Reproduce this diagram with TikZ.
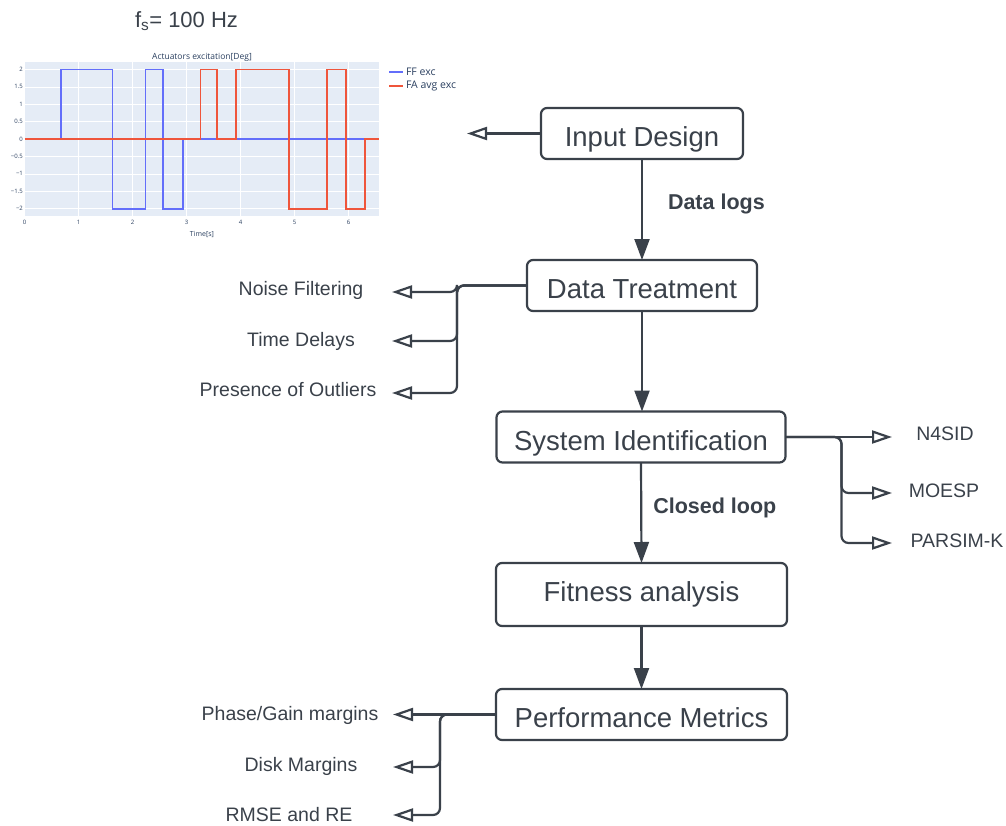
\documentclass[tikz,border=0pt]{standalone}
\usepackage{fontspec}
\setmainfont{Liberation Sans}
\newfontfamily\plotfont{Open Sans}
\usetikzlibrary{arrows.meta}
\definecolor{ink}{HTML}{3A414A}
\definecolor{plotbg}{HTML}{E5ECF6}
\definecolor{plottxt}{HTML}{2A3F5F}
\definecolor{ffblue}{HTML}{636EFA}
\definecolor{fared}{HTML}{EF553B}
\begin{document}
\begin{tikzpicture}[x=1pt,y=-1pt,inner sep=0pt,outer sep=0pt,line width=2.2pt,color=ink,
sysblock/.style={draw,rectangle,rounded corners=6pt,minimum height=51pt,text height=26.7pt,text depth=0pt,
  font=\fontsize{27.5}{33}\selectfont},
lbl/.style={font=\fontsize{19.5}{23}\selectfont,anchor=base},
edgelbl/.style={font=\bfseries\fontsize{21.5}{26}\selectfont,anchor=base west},
flow/.style={-{Triangle[length=21pt,width=15pt]}},
branch/.style={-{Triangle[open,length=20pt,width=13pt,fill=white]},rounded corners=7pt},
ticklbl/.style={font=\plotfont\fontsize{6}{7}\selectfont,text=plottxt},
sig/.style={line width=1.8pt,line join=miter}]
\useasboundingbox (0,0) rectangle (1006,825);

\node[anchor=base west,font=\fontsize{22}{26}\selectfont] (fs) at (135,27) {f\textsubscript{s}= 100 Hz};

\begin{scope}[shift={(24.5,139)},x=54pt,y=34.8pt,line width=0.6pt]
\fill[plotbg] (0.01,-2.22) rectangle (6.57,2.22);
\foreach \v in {-2,-1.5,...,2.1} \draw[white] (0.01,\v) -- (6.57,\v);
\foreach \t in {1,...,6} \draw[white] (\t,-2.22) -- (\t,2.22);
\foreach \v/\s [count=\k] in {2/2,1.5/1.5,1/1,0.5/0.5,0/0,-0.5/−0.5,-1/−1,-1.5/−1.5,-2/−2}
  \node[ticklbl,anchor=east] (ytick\k) at (-0.03,\v) {\s};
\foreach \t in {0,...,6}
  \node[ticklbl,anchor=north] (xtick\t) at (\t,-2.34) {\t};
\draw[ffblue,sig] (0.67,0) -- (0.67,2) -- (1.63,2) -- (1.63,-2) -- (2.24,-2) -- (2.24,2) -- (2.57,2)
  -- (2.57,-2) -- (2.93,-2) -- (2.93,0) -- (6.57,0);
\draw[fared,sig] (0,0) -- (3.26,0) -- (3.26,2) -- (3.57,2) -- (3.57,0) -- (3.92,0) -- (3.92,2) -- (4.9,2)
  -- (4.9,-2) -- (5.6,-2) -- (5.6,2) -- (5.96,2) -- (5.96,-2) -- (6.31,-2) -- (6.31,0) -- (6.57,0);
\end{scope}
\node[font=\plotfont\fontsize{8.5}{10}\selectfont,text=plottxt] (ptitle) at (202,57) {Actuators excitation[Deg]};
\node[ticklbl,font=\plotfont\fontsize{7}{8}\selectfont] (ptime) at (202,234) {Time[s]};
\draw[ffblue,sig] (389,72) -- (403,72) node[right=3pt,font=\plotfont\fontsize{10.5}{12}\selectfont,text=plottxt] (legff) {FF exc};
\draw[fared,sig] (389,86) -- (403,86) node[right=3pt,font=\plotfont\fontsize{10.5}{12}\selectfont,text=plottxt] (legfa) {FA avg exc};

\draw (642,133.5) node[sysblock,minimum width=202pt] (indes) {Input Design};
\draw (642,285.5) node[sysblock,minimum width=230pt] (dtreat) {Data Treatment};
\draw (641,437) node[sysblock,minimum width=289pt] (sysid) {System Identification};
\draw (641.5,594.5) node[sysblock,minimum width=291pt,minimum height=63pt,text depth=12pt] (fit) {Fitness analysis};
\draw (641.5,714.5) node[sysblock,minimum width=291pt] (perf) {Performance Metrics};

\node[lbl] (noise) at (301,295) {Noise Filtering};
\node[lbl] (delay) at (301,346) {Time Delays};
\node[lbl] (outl) at (288,396) {Presence of Outliers};
\node[lbl] (n4sid) at (945,440.5) {N4SID};
\node[lbl] (moesp) at (944,497) {MOESP};
\node[lbl] (parsim) at (957,547) {PARSIM-K};
\node[lbl] (pgm) at (290,720.5) {Phase/Gain margins};
\node[lbl] (disk) at (301,771) {Disk Margins};
\node[lbl] (rmse) at (289,821) {RMSE and RE};

\coordinate (plottip) at (467,133.5);
\coordinate (noisetip) at (392,292);
\coordinate (delaytip) at (392,341);
\coordinate (outltip) at (392,393);
\coordinate (n4tip) at (892,437);
\coordinate (moesptip) at (892,493);
\coordinate (parsimtip) at (892,543);
\coordinate (pgmtip) at (393,714.5);
\coordinate (disktip) at (393,767);
\coordinate (rmsetip) at (393,815);

\draw[flow] (indes.south) -- node[pos=.5,right=26pt,edgelbl] (dlogs) {Data logs} (dtreat.north);
\draw[flow] (dtreat.south) -- (dtreat.south|-sysid.north);
\draw[flow] (sysid.south) -- node[pos=.5,right=12pt,yshift=-0.5pt,edgelbl] (cloop) {Closed loop} (fit.north);
\draw[flow] (fit.south) -- (perf.north);

\draw[branch] (indes.west) -- (plottip);
\draw[branch] (dtreat.west) -- ++(-70,0) |- (noisetip);
\draw[branch] (dtreat.west) -- ++(-70,0) |- (delaytip);
\draw[branch] (dtreat.west) -- ++(-70,0) |- (outltip);
\draw[branch] (sysid.east) -- (n4tip);
\draw[branch] (sysid.east) -- ++(56,0) |- (moesptip);
\draw[branch] (sysid.east) -- ++(56,0) |- (parsimtip);
\draw[branch] (perf.west) -- (pgmtip);
\draw[branch] (perf.west) -- ++(-56,0) |- (disktip);
\draw[branch] (perf.west) -- ++(-56,0) |- (rmsetip);

\end{tikzpicture}
\end{document}
